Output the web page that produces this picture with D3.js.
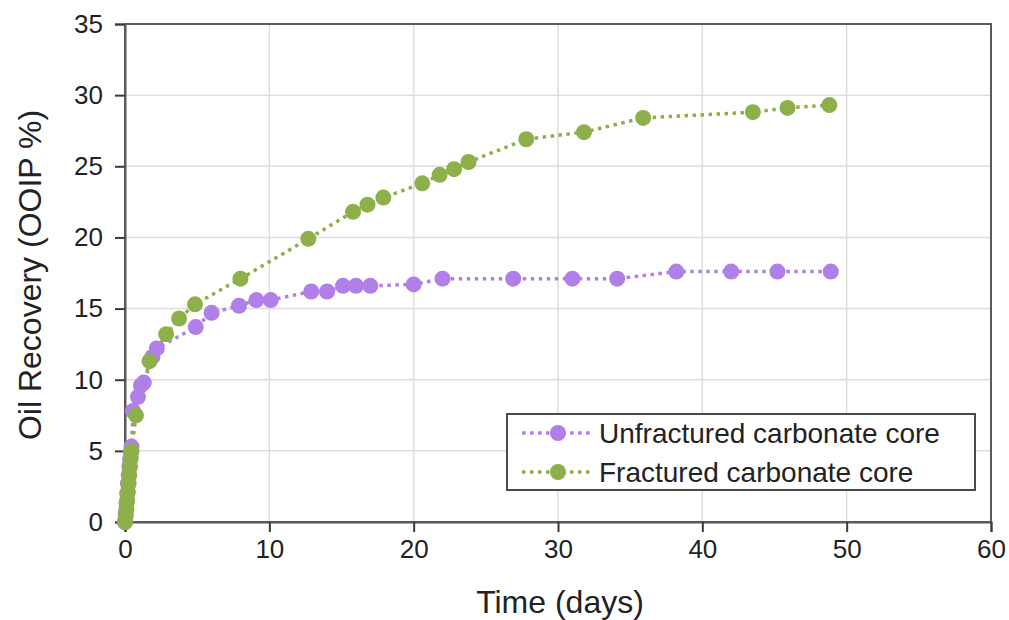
<!DOCTYPE html>
<html>
<head>
<meta charset="utf-8">
<script src="https://cdn.jsdelivr.net/npm/d3@7"></script>
<style>
  body { margin: 0; background: #fff; }
  svg text { font-family: "Liberation Sans", Arial, sans-serif; fill: #222; }
</style>
</head>
<body>
<svg id="chart" width="1009" height="620"></svg>
<script>
// DATA
var unfrac_days = [0, 0.05, 0.1, 0.15, 0.2, 0.25, 0.3, 0.35, 0.4, 0.45, 0.55, 0.9, 1.1, 1.3, 1.9, 2.2,
  4.9, 6.0, 7.9, 9.1, 10.1, 12.9, 14.0, 15.1, 16.0, 17.0, 20.0, 22.0, 26.9, 31.0, 34.1, 38.2, 42.0, 45.2, 48.9];
var unfrac_rec = [0, 0.6, 1.3, 2.0, 2.7, 3.3, 3.9, 4.4, 4.9, 5.3, 7.8, 8.8, 9.6, 9.8, 11.6, 12.2,
  13.7, 14.7, 15.2, 15.6, 15.6, 16.2, 16.2, 16.6, 16.6, 16.6, 16.7, 17.1, 17.1, 17.1, 17.1, 17.6, 17.6, 17.6, 17.6];

var frac_days = [0, 0.05, 0.1, 0.15, 0.2, 0.25, 0.3, 0.35, 0.4, 0.45, 0.76, 1.7, 2.85, 3.75, 4.85, 8.0,
  12.7, 15.8, 16.8, 17.9, 20.6, 21.8, 22.8, 23.8, 27.8, 31.8, 35.9, 43.5, 45.9, 48.8];
var frac_rec = [0, 0.4, 0.9, 1.5, 2.1, 2.7, 3.3, 3.9, 4.5, 5.0, 7.5, 11.3, 13.2, 14.3, 15.3, 17.1,
  19.9, 21.8, 22.3, 22.8, 23.8, 24.4, 24.8, 25.3, 26.9, 27.4, 28.4, 28.8, 29.1, 29.3];

var series_names = ["Unfractured carbonate core", "Fractured carbonate core"];
var series_colours = ["#b07fe8", "#8db04b"];

var x_ticks = [0, 10, 20, 30, 40, 50, 60];
var y_ticks = [0, 5, 10, 15, 20, 25, 30, 35];

// SVG SETUP
var svg = d3.select("#chart");
var left = 125, right = 991, top_y = 24, bottom = 522;

var xScale = d3.scaleLinear().domain([0, 60]).range([left, right]);
var yScale = d3.scaleLinear().domain([0, 35]).range([bottom, top_y]);

// gridlines
svg.append("g").selectAll("line.vgrid")
  .data(x_ticks.slice(1, -1))
  .enter().append("line")
  .attr("x1", d => xScale(d)).attr("x2", d => xScale(d))
  .attr("y1", top_y).attr("y2", bottom)
  .attr("stroke", "#dedede").attr("stroke-width", 1.5);

svg.append("g").selectAll("line.hgrid")
  .data(y_ticks.slice(1, -1))
  .enter().append("line")
  .attr("x1", left).attr("x2", right)
  .attr("y1", d => yScale(d)).attr("y2", d => yScale(d))
  .attr("stroke", "#dedede").attr("stroke-width", 1.5);

// frame
svg.append("rect")
  .attr("x", left).attr("y", top_y)
  .attr("width", right - left).attr("height", bottom - top_y)
  .attr("fill", "none").attr("stroke", "#5a5a5a").attr("stroke-width", 2);

// axes
var xAxis = svg.append("g")
  .attr("transform", "translate(0," + bottom + ")")
  .call(d3.axisBottom(xScale).tickValues(x_ticks).tickSize(10).tickPadding(8));
var yAxis = svg.append("g")
  .attr("transform", "translate(" + left + ",0)")
  .call(d3.axisLeft(yScale).tickValues(y_ticks).tickSize(10).tickPadding(12));

[xAxis, yAxis].forEach(a => {
  a.select(".domain").attr("stroke", "#5a5a5a").attr("stroke-width", 2);
  a.selectAll(".tick line").attr("stroke", "#3a3a3a").attr("stroke-width", 2);
  a.selectAll(".tick text").style("font-size", "26px").attr("fill", "#222")
    .style("font-family", "'Liberation Sans', Arial, sans-serif");
});

// axis titles
svg.append("text")
  .attr("x", (left + right) / 2 + 2).attr("y", 613)
  .attr("text-anchor", "middle")
  .style("font-size", "32px")
  .text("Time (days)");

svg.append("text")
  .attr("transform", "translate(41," + ((top_y + bottom) / 2 + 2) + ") rotate(-90)")
  .attr("text-anchor", "middle")
  .style("font-size", "32px")
  .text("Oil Recovery (OOIP %)");

// series
var series = [
  { name: series_names[0], colour: series_colours[0], pts: unfrac_days.map((d, i) => [d, unfrac_rec[i]]) },
  { name: series_names[1], colour: series_colours[1], pts: frac_days.map((d, i) => [d, frac_rec[i]]) }
];

var line = d3.line().x(d => xScale(d[0])).y(d => yScale(d[1]));

series.forEach(s => {
  svg.append("path")
    .datum(s.pts)
    .attr("d", line)
    .attr("fill", "none")
    .attr("stroke", s.colour)
    .attr("stroke-width", 3.5)
    .attr("stroke-dasharray", "3.5,4.5");
});

series.forEach(s => {
  svg.append("g").selectAll("circle")
    .data(s.pts)
    .enter().append("circle")
    .attr("cx", d => xScale(d[0]))
    .attr("cy", d => yScale(d[1]))
    .attr("r", 8)
    .attr("fill", s.colour);
});

// legend
var legend = svg.append("g");
legend.append("rect")
  .attr("x", 507).attr("y", 414).attr("width", 468).attr("height", 76)
  .attr("fill", "#fff").attr("stroke", "#4a4a4a").attr("stroke-width", 2);

series.forEach((s, i) => {
  var ly = 433 + i * 39;
  legend.append("line")
    .attr("x1", 522).attr("x2", 592).attr("y1", ly).attr("y2", ly)
    .attr("stroke", s.colour).attr("stroke-width", 3.5)
    .attr("stroke-dasharray", "3.5,4.5");
  legend.append("circle")
    .attr("cx", 558).attr("cy", ly).attr("r", 8).attr("fill", s.colour);
  legend.append("text")
    .attr("x", 599).attr("y", ly + 10)
    .style("font-size", "28px")
    .text(s.name);
});
</script>
</body>
</html>
